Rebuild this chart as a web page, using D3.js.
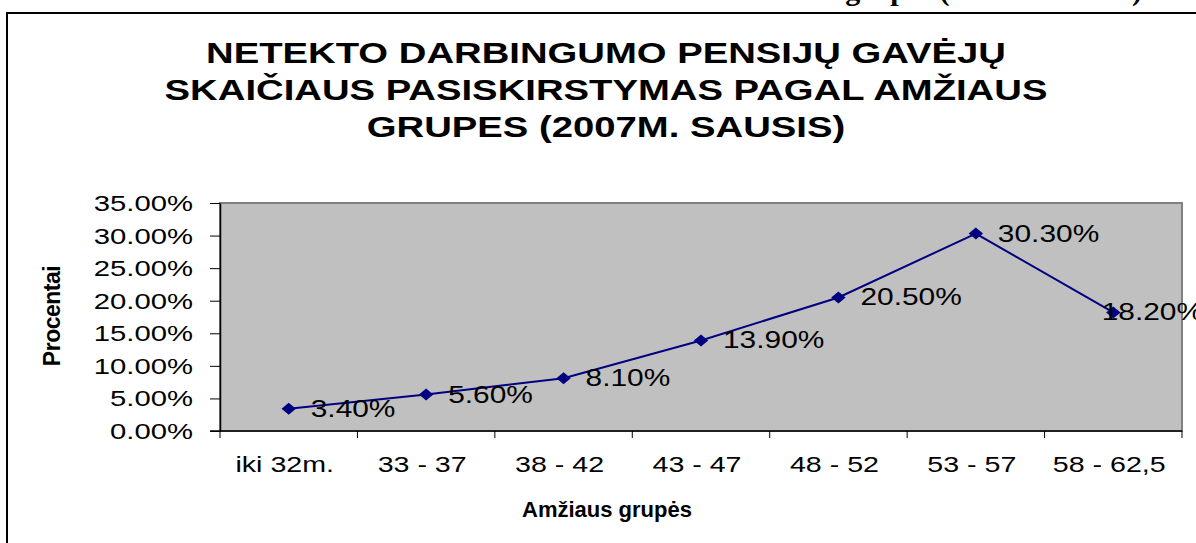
<!DOCTYPE html>
<html>
<head>
<meta charset="utf-8">
<script src="https://cdn.jsdelivr.net/npm/d3@7"></script>
<style>
body{margin:0;background:#fff;overflow:hidden;}
text{font-family:"Liberation Sans",Arial,sans-serif;fill:#000;}
</style>
</head>
<body>
<div id="ChartS"></div>
<script>
// chart values
var Categories = ["iki 32m.","33 - 37","38 - 42","43 - 47","48 - 52","53 - 57","58 - 62,5"]
var Procentai = [3.4,5.6,8.1,13.9,20.5,30.3,18.2]
var YTicks = [0,5,10,15,20,25,30,35]
var TitleLines = ["NETEKTO DARBINGUMO PENSIJŲ GAVĖJŲ","SKAIČIAUS PASISKIRSTYMAS PAGAL AMŽIAUS","GRUPES (2007M. SAUSIS)"]
var PageHeading = "amžiaus grupes (2007 m. sausis)"
var XTitle = "Amžiaus grupės"
var YTitle = "Procentai"

var W = 1196, H = 543
var plot = {left:220, right:1182, top:203, bottom:431}
var fmt = d3.format(".2f")

var svg = d3.select("#ChartS")
    .append("svg")
    .attr("width",W)
    .attr("height",H)
    .style("display","block")

// the old excel picture is stretched sideways, so texts get an x scale
function putText(x,y,txt,sx,size,weight,anchor){
    return svg.append("text")
        .attr("transform","translate("+x+","+y+") scale("+sx+",1)")
        .attr("font-size",size)
        .attr("font-weight",weight)
        .attr("text-anchor",anchor)
        .text(txt)
}

// page heading, cut off above the picture (only descenders show)
svg.append("text")
    .attr("x",1142)
    .attr("y",0)
    .attr("text-anchor","end")
    .style("font-family","'Liberation Serif','Times New Roman',serif")
    .attr("font-weight","bold")
    .attr("font-size",30)
    .text(PageHeading)

// chart frame
svg.append("rect")
    .attr("x",7).attr("y",13)
    .attr("width",1300).attr("height",600)
    .attr("fill","none")
    .attr("stroke","#000")
    .attr("stroke-width",2)

// title
TitleLines.forEach(function(t,i){
    putText(606,63+i*37,t,1.32,29,"bold","middle")
})

var X_AXIS = d3.scaleBand()
    .domain(Categories)
    .range([plot.left,plot.right])
var Y_AXIS = d3.scaleLinear()
    .domain([0,35])
    .range([plot.bottom,plot.top])

// plot area
svg.append("rect")
    .attr("x",plot.left).attr("y",plot.top)
    .attr("width",plot.right-plot.left)
    .attr("height",plot.bottom-plot.top)
    .attr("fill","#C0C0C0")
    .attr("stroke","#808080")
    .attr("stroke-width",2)

// y axis
var yg = svg.append("g")
    .attr("transform","translate("+plot.left+",0)")
    .call(d3.axisLeft(Y_AXIS).tickValues(YTicks).tickSize(10).tickSizeOuter(0).tickFormat(""))
yg.select(".domain").attr("stroke","#000").attr("stroke-width",1.5)
yg.selectAll(".tick line").attr("stroke","#000")
YTicks.forEach(function(v){
    putText(plot.left-27,Y_AXIS(v)+8,fmt(v)+"%",1.33,22,"normal","end")
})

// x axis, ticks sit between the groups
var xg = svg.append("g")
svg.append("line")
    .attr("x1",plot.left-10).attr("x2",plot.right)
    .attr("y1",plot.bottom).attr("y2",plot.bottom)
    .attr("stroke","#000").attr("stroke-width",1.5)
xg.selectAll("line")
    .data(Categories.concat(["end"]))
    .enter().append("line")
    .attr("x1",function(d){ return d==="end" ? plot.right : X_AXIS(d) })
    .attr("x2",function(d){ return d==="end" ? plot.right : X_AXIS(d) })
    .attr("y1",plot.bottom).attr("y2",plot.bottom+7)
    .attr("stroke","#000")
Categories.forEach(function(c){
    putText(X_AXIS(c)+X_AXIS.bandwidth()/2-4,472,c,1.3,22,"normal","middle")
})

// axis titles
putText(607,517,XTitle,1.0,22,"bold","middle")
svg.append("text")
    .attr("transform","translate(60,316) scale(1.05,1) rotate(-90)")
    .attr("font-size",23)
    .attr("font-weight","bold")
    .attr("letter-spacing",-0.5)
    .attr("text-anchor","middle")
    .text(YTitle)

// the line
var cx = function(i){ return X_AXIS(Categories[i])+X_AXIS.bandwidth()/2 }
svg.append("path")
    .datum(Procentai)
    .attr("fill","none")
    .attr("stroke","#000080")
    .attr("stroke-width",2)
    .attr("d",d3.line()
        .x(function(d,i){ return cx(i) })
        .y(function(d){ return Y_AXIS(d) }))

svg.selectAll(".pt")
    .data(Procentai)
    .enter().append("path")
    .attr("class","pt")
    .attr("d",d3.symbol(d3.symbolSquare,72))
    .attr("transform",function(d,i){ return "translate("+cx(i)+","+Y_AXIS(d)+") scale(1.2,1) rotate(45)" })
    .attr("fill","#000080")

// data labels, pushed back in at the right edge
Procentai.forEach(function(v,i){
    var lbl = putText(0,0,fmt(v)+"%",1.3,23,"normal","start")
    var w = lbl.node().getComputedTextLength()*1.3
    var x = Math.min(cx(i)+22,1203-w)
    lbl.attr("transform","translate("+x+","+(Y_AXIS(v)+8)+") scale(1.3,1)")
})
</script>
</body>
</html>
